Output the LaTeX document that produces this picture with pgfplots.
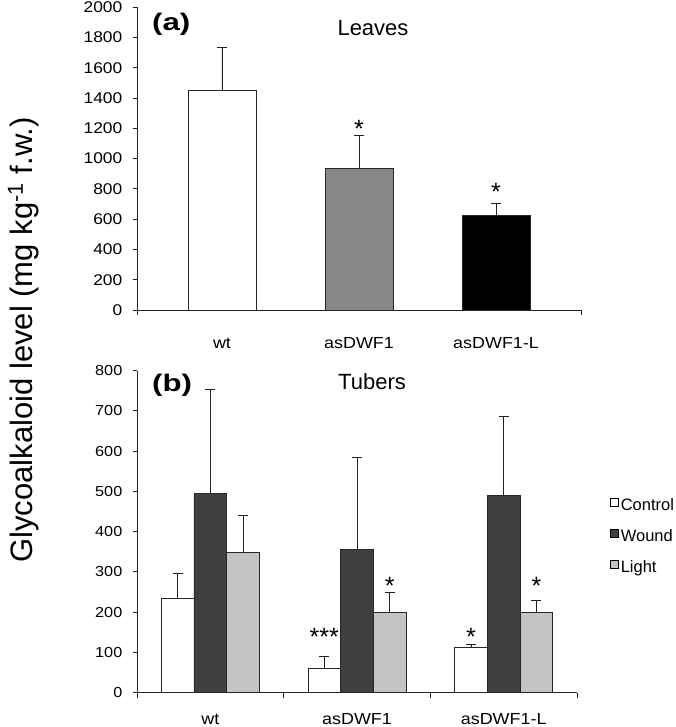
\documentclass[border=0pt]{standalone}
\usepackage{pgfplots}
\pgfplotsset{compat=1.18}
\usepackage{fontspec}
\setmainfont{Liberation Sans}
\newfontfamily\wide[FakeStretch=1.12]{Liberation Sans}
\newfontfamily\widebold[FakeStretch=1.3]{Liberation Sans}
\definecolor{midgray}{HTML}{878787}
\definecolor{woundc}{HTML}{404040}
\definecolor{lightc}{HTML}{C4C4C4}
\definecolor{axisc}{HTML}{222222}

\pgfplotsset{
  mystyle/.style={
    scale only axis,
    axis lines*=left,
    axis line style={axisc, line width=0.9pt, -},
    every tick/.style={axisc, line width=0.9pt},
    tick align=outside,
    major tick length=4.5pt,
    /pgf/number format/assume math mode=true,
    /pgf/number format/1000 sep={},
    yticklabel style={font=\wide\fontsize{15.5}{16}\selectfont, anchor=east, inner sep=0pt, xshift=-10pt},
    xticklabel style={font=\wide\fontsize{16}{17}\selectfont, anchor=base, inner sep=0pt},
    xtick style={/pgfplots/major tick length=0pt},
    extra x tick style={xtick style={/pgfplots/major tick length=5pt}, major tick length=5pt},
    clip=false,
  },
  mybar/.style={
    ybar, bar shift=0pt, draw=black!85, line width=0.8pt,
    legend image code/.code={\draw[##1, draw=black, line width=0.6pt] (0pt,-1pt) rectangle (8pt,7pt);},
    /pgfplots/error bars/y dir=plus,
    /pgfplots/error bars/y explicit,
    /pgfplots/error bars/error bar style={line width=0.9pt, color=axisc},
    /pgfplots/error bars/error mark options={rotate=90, mark size=5pt, line width=0.9pt, color=axisc},
  },
  stars/.style={
    draw=none, mark=none, forget plot,
    nodes near coords, point meta=explicit symbolic,
    every node near coord/.append style={anchor=center, yshift=-5.5pt, inner sep=0pt, font=\fontsize{25}{26}\selectfont},
  },
}

\begin{document}
\begin{tikzpicture}
\useasboundingbox (0,0) rectangle (675pt,727pt);

% ---------- (a) Leaves ----------
\begin{axis}[mystyle,
  at={(137pt,417pt)}, anchor=south west,
  width=444pt, height=302.7pt,
  xmin=-0.62, xmax=2.62, ymin=0, ymax=2000,
  ytick={0,200,...,2000},
  xtick={0,1,2}, xticklabels={wt,asDWF1,asDWF1-L},
  xticklabel style={yshift=-34pt},
  extra x ticks={-0.62,2.62}, extra x tick labels={},
]
\addplot[mybar, bar width=68pt, fill=white] coordinates {(0,1450) +- (0,285)};
\addplot[mybar, bar width=68pt, fill=midgray] coordinates {(1,938) +- (0,215)};
\addplot[mybar, bar width=68pt, fill=black] coordinates {(2,623) +- (0,79)};
\addplot[stars] coordinates {(1,1235) [*] (2,815) [*]};
\end{axis}

% ---------- (b) Tubers ----------
\begin{axis}[mystyle,
  at={(137pt,34.3pt)}, anchor=south west,
  width=440pt, height=322pt,
  xmin=-0.5, xmax=2.5, ymin=0, ymax=800,
  ytick={0,100,...,800},
  yticklabel style={font=\wide\fontsize{14.5}{15}\selectfont},
  xtick={0,1,2}, xticklabels={wt,asDWF1,asDWF1-L},
  xticklabel style={yshift=-27.5pt},
  extra x ticks={-0.5,0.5,1.5,2.5}, extra x tick labels={},
  legend style={at={(axis description cs:1.075,0.606)}, anchor=north west,
    draw=none, fill=none, inner sep=0pt, row sep=17pt,
    font=\fontsize{16.5}{18}\selectfont,
    nodes={inner xsep=2pt, inner ysep=0pt}},
  legend cell align=left,
]
\addplot[mybar, bar width=32.7pt, fill=white]
  coordinates {(-0.2229,234.5) +- (0,61.5) (0.7771,61) +- (0,29) (1.7771,112) +- (0,7)};
\addlegendentry{Control}
\addplot[mybar, bar width=32.7pt, fill=woundc]
  coordinates {(0,494) +- (0,260) (1,356) +- (0,228) (2,491) +- (0,196)};
\addlegendentry{Wound}
\addplot[mybar, bar width=32.7pt, fill=lightc]
  coordinates {(0.2229,348) +- (0,93) (1.2229,199) +- (0,49) (2.2229,200) +- (0,30)};
\addlegendentry{Light}
\addplot[stars] coordinates {(0.7771,151.5) [***] (1.2229,278) [*] (1.7771,153) [*] (2.2229,280) [*]};
\end{axis}

% titles and panel letters
\node[anchor=base west, inner sep=0pt, font=\widebold\bfseries\fontsize{24}{26}\selectfont] at (152pt,696pt) {(a)};
\node[anchor=base, inner sep=0pt, font=\fontsize{22}{24}\selectfont] at (373pt,691pt) {Leaves};
\node[anchor=base west, inner sep=0pt, font=\widebold\bfseries\fontsize{24}{26}\selectfont] at (152pt,335pt) {(b)};
\node[anchor=base, inner sep=0pt, font=\fontsize{22}{24}\selectfont] at (372pt,337pt) {Tubers};
% y label
\node[anchor=base, rotate=90, inner sep=0pt, font=\fontsize{31}{33}\selectfont] at (32pt,387pt)
  {Glycoalkaloid level (mg kg\textsuperscript{-1} f.w.)};
\end{tikzpicture}
\end{document}
